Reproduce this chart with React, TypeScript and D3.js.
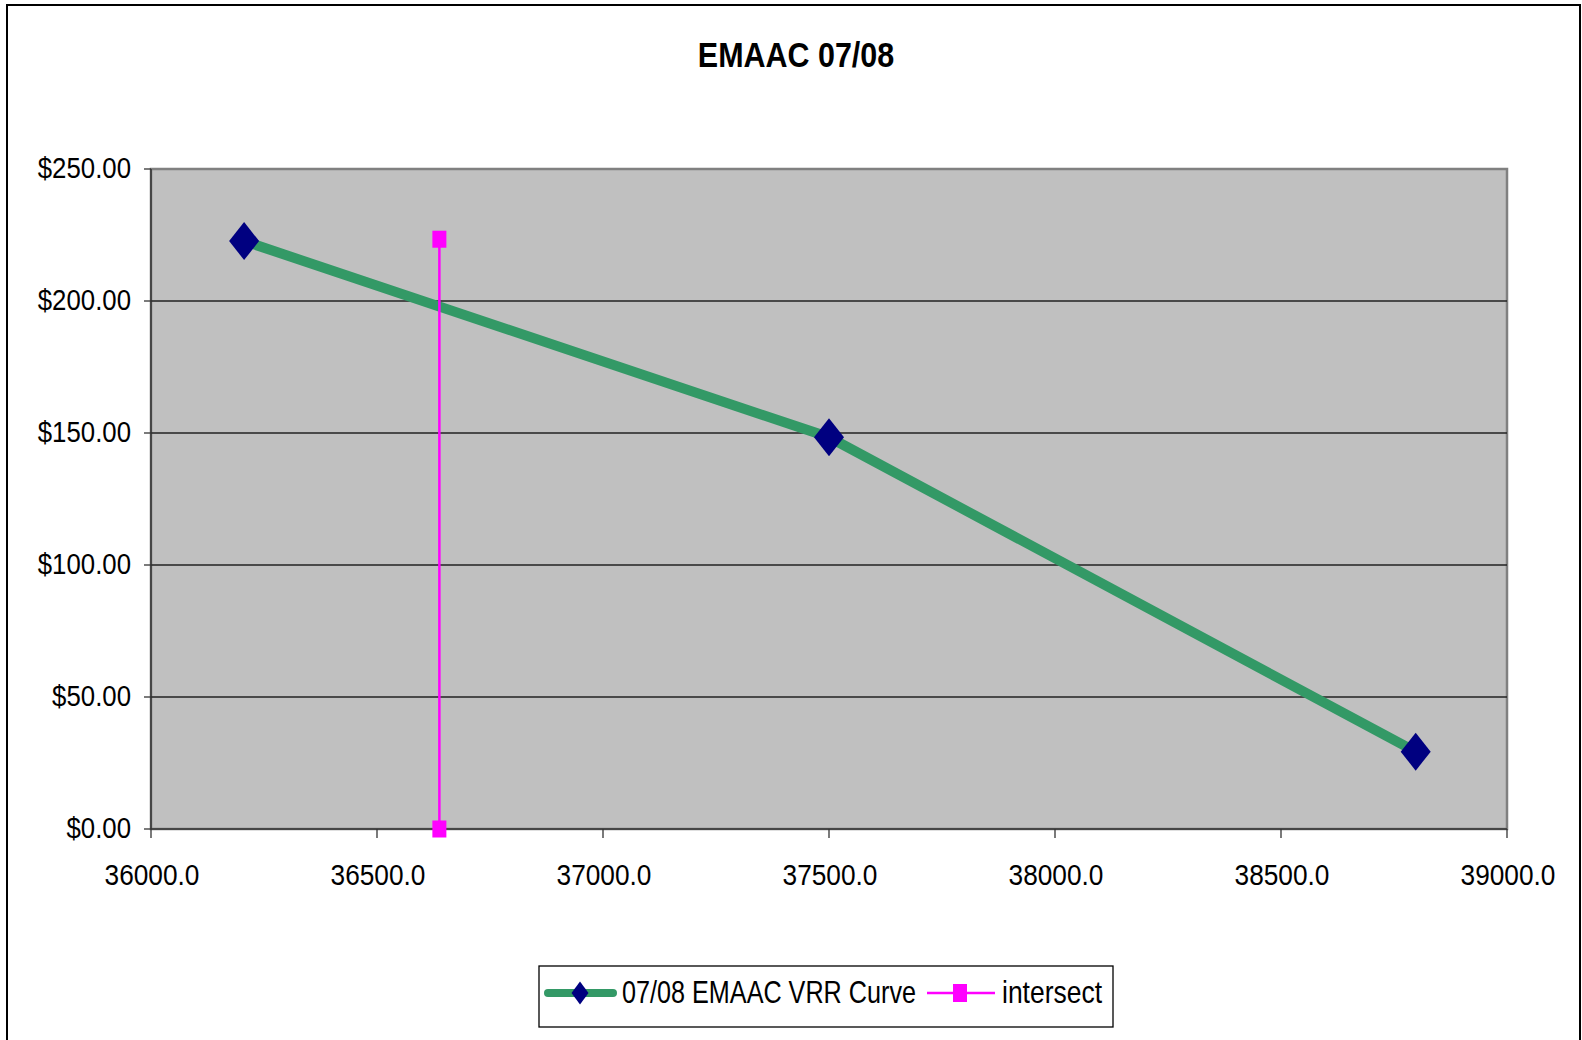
import React from 'react';
import * as d3 from 'd3';

const W = 1582;
const H = 1040;

// plot area
const plot = { left: 151, top: 169, right: 1507, bottom: 829 };

const title = 'EMAAC 07/08';
const xTicks = [36000, 36500, 37000, 37500, 38000, 38500, 39000];
const yTicks = [0, 50, 100, 150, 200, 250];

// VRR curve points
const vrrX = [36206, 37500, 38798];
const vrrY = [222.7, 148.4, 29.3];

// intersect line
const intersectX = [36638, 36638];
const intersectY = [223.4, 0];

const seriesNames = ['07/08 EMAAC VRR Curve', 'intersect'];

const FONT = 'Arial, "Liberation Sans", Helvetica, sans-serif';
const GREEN = '#339966';
const NAVY = '#000080';
const PINK = '#FF00FF';

const diamond = (cx: number, cy: number, w: number, h: number) =>
  `M${cx},${cy - h / 2}L${cx + w / 2},${cy}L${cx},${cy + h / 2}L${cx - w / 2},${cy}Z`;

// condensed text like the original rendering
const Label = ({ x, y, anchor, size, sx, children, bold }: any) => (
  <text
    transform={`translate(${x},${y}) scale(${sx},1)`}
    textAnchor={anchor}
    fontSize={size}
    fontFamily={FONT}
    fontWeight={bold ? 'bold' : 'normal'}
    fill="#000"
  >
    {children}
  </text>
);

export default function App() {
  const x = d3.scaleLinear().domain([36000, 39000]).range([plot.left, plot.right]);
  const y = d3.scaleLinear().domain([0, 250]).range([plot.bottom, plot.top]);

  const vrr = vrrX.map((v, i) => [v, vrrY[i]] as [number, number]);
  const inter = intersectX.map((v, i) => [v, intersectY[i]] as [number, number]);

  const line = d3
    .line<[number, number]>()
    .x((d) => x(d[0]))
    .y((d) => y(d[1]));

  const fmtY = d3.format('$.2f');
  const fmtX = d3.format('.1f');

  return (
    <svg
      width={W}
      height={H}
      style={{ position: 'absolute', left: 0, top: 0, display: 'block', background: '#fff' }}
    >
      {/* outer chart border */}
      <rect x={7} y={5} width={1573} height={1060} fill="#fff" stroke="#000" strokeWidth={2} />

      <Label x={796} y={67} anchor="middle" size={35} sx={0.87} bold>
        {title}
      </Label>

      {/* plot background */}
      <rect
        x={plot.left}
        y={plot.top}
        width={plot.right - plot.left}
        height={plot.bottom - plot.top}
        fill="#C0C0C0"
        stroke="#808080"
        strokeWidth={2.5}
      />

      {/* gridlines */}
      {yTicks
        .filter((t) => t > 0 && t < 250)
        .map((t) => (
          <line key={t} x1={plot.left} x2={plot.right} y1={y(t)} y2={y(t)} stroke="#222" strokeWidth={1.3} />
        ))}

      {/* axes */}
      <line x1={plot.left} x2={plot.left} y1={plot.top} y2={plot.bottom} stroke="#333" strokeWidth={1.5} />
      <line x1={plot.left} x2={plot.right} y1={plot.bottom} y2={plot.bottom} stroke="#333" strokeWidth={1.5} />

      {yTicks.map((t) => (
        <g key={t}>
          <line x1={plot.left - 7} x2={plot.left} y1={y(t)} y2={y(t)} stroke="#333" strokeWidth={1.3} />
          <Label x={131} y={y(t) + 9} anchor="end" size={30} sx={0.86}>
            {fmtY(t)}
          </Label>
        </g>
      ))}
      {xTicks.map((t) => (
        <g key={t}>
          <line x1={x(t)} x2={x(t)} y1={plot.bottom} y2={plot.bottom + 9} stroke="#333" strokeWidth={1.3} />
          <Label x={x(t) + 1} y={885} anchor="middle" size={30} sx={0.875}>
            {fmtX(t)}
          </Label>
        </g>
      ))}

      {/* VRR curve */}
      <path d={line(vrr) || ''} fill="none" stroke={GREEN} strokeWidth={10} />
      {vrr.map((d, i) => (
        <path key={i} d={diamond(x(d[0]), y(d[1]), 30, 38)} fill={NAVY} />
      ))}

      {/* intersect */}
      <path d={line(inter) || ''} fill="none" stroke={PINK} strokeWidth={2.5} />
      {inter.map((d, i) => (
        <rect key={i} x={x(d[0]) - 7} y={y(d[1]) - 8.5} width={14} height={17} fill={PINK} />
      ))}

      {/* legend */}
      <rect x={539} y={966} width={574} height={61} fill="#fff" stroke="#000" strokeWidth={1.3} />
      <line x1={548} x2={613} y1={993} y2={993} stroke={GREEN} strokeWidth={8} strokeLinecap="round" />
      <path d={diamond(580, 993, 17, 23)} fill={NAVY} />
      <text x={622} y={1003} fontSize={32} fontFamily={FONT} textLength={294} lengthAdjust="spacingAndGlyphs">
        {seriesNames[0]}
      </text>
      <line x1={927} x2={995} y1={993} y2={993} stroke={PINK} strokeWidth={2.5} />
      <rect x={953} y={984} width={14} height={18} fill={PINK} />
      <text x={1002} y={1003} fontSize={32} fontFamily={FONT} textLength={100} lengthAdjust="spacingAndGlyphs">
        {seriesNames[1]}
      </text>
    </svg>
  );
}
